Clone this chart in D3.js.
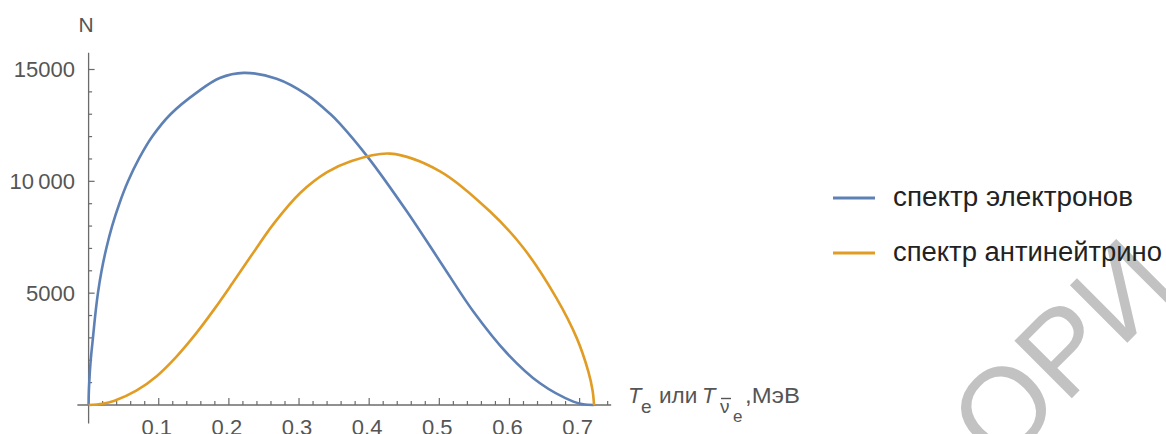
<!DOCTYPE html>
<html>
<head>
<meta charset="utf-8">
<script src="https://cdn.jsdelivr.net/npm/d3@7"></script>
<style>
  html, body { margin: 0; padding: 0; background: #fff; }
  svg { display: block; }
</style>
</head>
<body>
<svg id="chart" width="1166" height="434"></svg>
<script>
// ---- data ----
const seriesNames = ["спектр электронов", "спектр антинейтрино"];
const seriesColors = ["#5E81B5", "#E19C24"];

const electronT = [0, 0.00025, 0.0009, 0.003, 0.0062, 0.0094, 0.0133, 0.0185, 0.0252, 0.0335, 0.0438, 0.0562, 0.0716, 0.0907, 0.1168, 0.1555, 0.187, 0.221, 0.268, 0.311, 0.3443, 0.3585, 0.3989, 0.4536, 0.501, 0.5485, 0.5962, 0.6436, 0.6911, 0.705, 0.72];
const electronN = [0, 500, 1000, 2000, 3000, 4000, 5000, 6000, 7000, 8000, 9000, 10000, 11000, 12000, 13000, 14000, 14620, 14850, 14590, 13880, 13020, 12570, 11050, 8660, 6420, 4180, 2325, 970, 150, 30, 0];

const antinuT = [0, 0.02, 0.036, 0.068, 0.097, 0.125, 0.153, 0.18, 0.205, 0.232, 0.264, 0.302, 0.34, 0.373, 0.43, 0.501, 0.572, 0.62, 0.667, 0.696, 0.7125, 0.7185, 0.7206];
const antinuN = [0, 55, 180, 640, 1290, 2155, 3190, 4320, 5440, 6680, 8110, 9490, 10410, 10890, 11240, 10450, 8660, 7020, 4780, 2990, 1490, 650, 0];

const xTickValues = [0.1, 0.2, 0.3, 0.4, 0.5, 0.6, 0.7];
const xTickLabels = ["0.1", "0.2", "0.3", "0.4", "0.5", "0.6", "0.7"];
const yTickValues = [5000, 10000, 15000];
const yTickLabels = ["5000", "10\u2009000", "15000"];

// ---- layout ----
const svg = d3.select("#chart");
const x = d3.scaleLinear().domain([0, 0.7]).range([88.6, 579.6]);
const y = d3.scaleLinear().domain([0, 15000]).range([405, 69.5]);

const axisColor = "#6b6b6b";
const labelColor = "#555";
const font = "Liberation Sans, Arial, sans-serif";

// watermark (light gray diagonal text, partly outside the frame)
svg.append("text")
  .attr("transform", "translate(1000,470) rotate(-45)")
  .attr("font-family", font)
  .attr("font-size", 118)
  .attr("fill", "#c2c2c2")
  .text("ОРИ");

// ---- axes ----
const gx = svg.append("g");
gx.append("line")
  .attr("x1", x(-0.016)).attr("x2", x(0.745))
  .attr("y1", y(0)).attr("y2", y(0))
  .attr("stroke", axisColor).attr("stroke-width", 1.3);
const xMinor = d3.range(1, 38).map(i => i * 0.02).filter(v => Math.abs(v * 10 - Math.round(v * 10)) > 1e-6);
gx.selectAll("line.minor").data(xMinor).join("line")
  .attr("class", "minor")
  .attr("x1", d => x(d)).attr("x2", d => x(d))
  .attr("y1", y(0)).attr("y2", y(0) - 4)
  .attr("stroke", axisColor).attr("stroke-width", 1.2);
gx.selectAll("line.major").data(xTickValues).join("line")
  .attr("class", "major")
  .attr("x1", d => x(d)).attr("x2", d => x(d))
  .attr("y1", y(0)).attr("y2", y(0) - 7)
  .attr("stroke", axisColor).attr("stroke-width", 1.2);
gx.selectAll("text").data(xTickValues).join("text")
  .attr("x", d => x(d) - 2).attr("y", 435)
  .attr("text-anchor", "middle")
  .attr("font-family", font).attr("font-size", 22)
  .attr("fill", labelColor)
  .text((d, i) => xTickLabels[i]);

const gy = svg.append("g");
gy.append("line")
  .attr("x1", x(0)).attr("x2", x(0))
  .attr("y1", y(15750)).attr("y2", y(-830))
  .attr("stroke", axisColor).attr("stroke-width", 1.3);
const yMinor = d3.range(1, 16).map(i => i * 1000).filter(v => v % 5000 !== 0);
gy.selectAll("line.minor").data(yMinor).join("line")
  .attr("class", "minor")
  .attr("x1", x(0)).attr("x2", x(0) + 3.5)
  .attr("y1", d => y(d)).attr("y2", d => y(d))
  .attr("stroke", axisColor).attr("stroke-width", 1.2);
gy.selectAll("line.major").data(yTickValues).join("line")
  .attr("class", "major")
  .attr("x1", x(0)).attr("x2", x(0) + 6)
  .attr("y1", d => y(d)).attr("y2", d => y(d))
  .attr("stroke", axisColor).attr("stroke-width", 1.2);
gy.selectAll("text").data(yTickValues).join("text")
  .attr("x", 75).attr("y", d => y(d) + 7.5)
  .attr("text-anchor", "end")
  .attr("font-family", font).attr("font-size", 22)
  .attr("fill", labelColor)
  .text((d, i) => yTickLabels[i]);

// axis titles
svg.append("text")
  .attr("x", 86).attr("y", 32)
  .attr("text-anchor", "middle")
  .attr("font-family", font).attr("font-size", 21)
  .attr("fill", labelColor)
  .text("N");

const xt = svg.append("g")
  .attr("font-family", font)
  .attr("fill", labelColor);
xt.append("text").attr("x", 628).attr("y", 403).attr("font-size", 22).attr("font-style", "italic").text("T");
xt.append("text").attr("x", 641).attr("y", 413).attr("font-size", 19).text("e");
xt.append("text").attr("x", 659).attr("y", 403).attr("font-size", 22.5).text("или");
xt.append("text").attr("x", 702).attr("y", 403).attr("font-size", 22).attr("font-style", "italic").text("T");
xt.append("text").attr("x", 720).attr("y", 412.5).attr("font-size", 19).text("\u03BD");
xt.append("line").attr("x1", 721).attr("x2", 731).attr("y1", 398.5).attr("y2", 398.5)
  .attr("stroke", labelColor).attr("stroke-width", 1.4);
xt.append("text").attr("x", 733).attr("y", 422).attr("font-size", 17).text("e");
xt.append("text").attr("x", 745).attr("y", 403).attr("font-size", 22).attr("textLength", 55).attr("lengthAdjust", "spacingAndGlyphs").text(",МэВ");

// ---- curves ----
const line = d3.line()
  .x(d => x(d[0])).y(d => y(d[1]))
  .curve(d3.curveCatmullRom.alpha(0.5));

const seriesData = [
  electronT.map((t, i) => [t, electronN[i]]),
  antinuT.map((t, i) => [t, antinuN[i]])
];

svg.append("g").selectAll("path").data(seriesData).join("path")
  .attr("d", line)
  .attr("fill", "none")
  .attr("stroke", (d, i) => seriesColors[i])
  .attr("stroke-width", 2.6)
  .attr("stroke-linejoin", "round");

// ---- legend ----
const legend = svg.append("g");
const legendY = [198, 253];
const legendTextWidth = [240, 269];
legend.selectAll("line").data(seriesNames).join("line")
  .attr("x1", 833).attr("x2", 875)
  .attr("y1", (d, i) => legendY[i]).attr("y2", (d, i) => legendY[i])
  .attr("stroke", (d, i) => seriesColors[i])
  .attr("stroke-width", 3);
legend.selectAll("text").data(seriesNames).join("text")
  .attr("x", 893).attr("y", (d, i) => legendY[i] + 7.5)
  .attr("font-family", font).attr("font-size", 27)
  .attr("textLength", (d, i) => legendTextWidth[i])
  .attr("lengthAdjust", "spacingAndGlyphs")
  .attr("fill", "#222")
  .text(d => d);
</script>
</body>
</html>
